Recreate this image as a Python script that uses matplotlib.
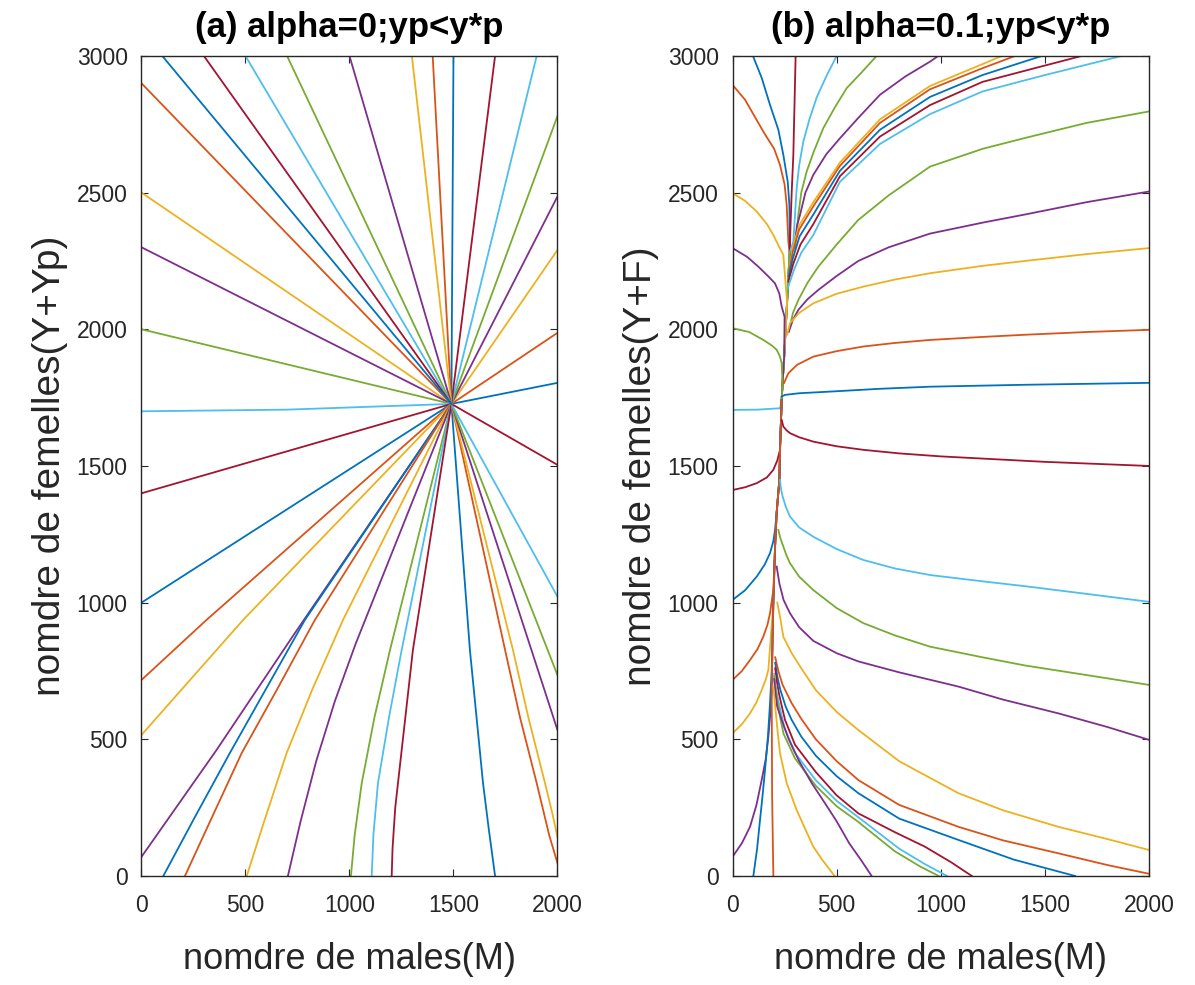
import matplotlib
matplotlib.use("Agg")
import matplotlib.pyplot as plt

plt.rcParams['font.family'] = ['Liberation Sans', 'DejaVu Sans']

# couleurs par défaut de MATLAB
B, O, Y, P, G, C, R = '#0072BD', '#D95319', '#EDB120', '#7E2F8E', '#77AC30', '#4DBEEE', '#A2142F'

# ---- (a) alpha=0 : trajectoires vers le point (1490, 1727) ----
a_x = [
    [0, 1490], [0, 1490], [0, 1490], [0, 1490], [0, 700, 1490], [0, 1490], [0, 1490],
    [0, 313, 1490], [0, 489, 1490], [0, 360, 730, 1490],
    [105, 260, 425, 786, 1490], [209, 330, 482, 650, 834, 1490],
    [506, 590, 698, 820, 969, 1490], [704, 765, 840, 930, 1030, 1490],
    [1007, 1025, 1059, 1120, 1195, 1490], [1107, 1115, 1137, 1190, 1251, 1490],
    [1203, 1207, 1220, 1245, 1305, 1490],
    [1700, 1670, 1642, 1579, 1490], [2000, 1960, 1900, 1820, 1748, 1490],
    [2000, 1975, 1940, 1860, 1786, 1490],
    [2000, 1490], [2000, 1490], [2000, 1490], [2000, 1490], [2000, 1490], [2000, 1490],
    [2000, 1490], [2000, 1490], [2000, 1490],
    [1900, 1490], [1700, 1490], [1500, 1490], [1400, 1490], [1300, 1490], [1000, 1490],
    [700, 1490], [500, 1490], [300, 1490], [100, 1490],
]
a_y = [
    [2900, 1727], [2500, 1727], [2300, 1727], [2000, 1727], [1700, 1706, 1727], [1400, 1727], [1000, 1727],
    [717, 937, 1727], [516, 937, 1727], [70, 460, 880, 1727],
    [0, 220, 450, 937, 1727], [0, 200, 450, 680, 937, 1727],
    [0, 200, 450, 680, 937, 1727], [0, 200, 420, 640, 850, 1727],
    [0, 150, 340, 580, 827, 1727], [0, 150, 340, 580, 827, 1727],
    [0, 100, 250, 420, 827, 1727],
    [0, 170, 340, 827, 1727], [47, 150, 340, 580, 827, 1727],
    [143, 230, 340, 580, 827, 1727],
    [534, 1727], [735, 1727], [1022, 1727], [1504, 1727], [1804, 1727], [1987, 1727],
    [2290, 1727], [2486, 1727], [2780, 1727],
    [3000, 1727], [3000, 1727], [3000, 1727], [3000, 1727], [3000, 1727], [3000, 1727],
    [3000, 1727], [3000, 1727], [3000, 1727], [3000, 1727],
]
a_col = [O, Y, P, G, C, R, B, O, Y, P, B, O, Y, P, G, C, R, B, O, Y,
         P, G, C, R, B, O, Y, P, G, C, R, B, O, Y, P, G, C, R, B]

# ---- (b) alpha=0.1 ----
# ligne "colonne" vers laquelle convergent les trajectoires
spine_u = [188, 196, 204, 212, 225, 228, 236, 240, 248, 262, 274, 284, 292, 303]
spine_v = [680, 1000, 1200, 1330, 1450, 1560, 1740, 1800, 1900, 2100, 2280, 2500, 2638, 3000]

# trajectoires qui rejoignent la colonne puis la suivent jusqu'au noeud (236, 1740)
bj_x = [
    [0, 60, 148, 200, 228, 250, 260, 268],
    [98, 140, 180, 220, 244, 265, 273, 276],
    [303],
    [500, 450, 404, 370, 340, 320, 308, 292],
    [692, 620, 548, 490, 436, 390, 356, 330, 316, 300],
    [0, 60, 116, 165, 196, 225, 244],
    [0, 70, 124, 170, 204, 225, 236, 250],
    [0, 80, 148, 190, 212, 228, 236],
    [0, 120, 228],
    [0, 60, 116, 165, 196, 215, 228],
    [0, 60, 116, 155, 180, 196, 204, 212],
    [0, 45, 84, 120, 148, 168, 180, 196],
    [0, 45, 84, 115, 140, 160, 172],
    [0, 45, 84, 115, 140, 160, 172, 182, 188],
    [100, 118, 132, 145, 156, 170, 180, 188],
    [196, 190, 188],
]
bj_y = [
    [2894, 2840, 2723, 2660, 2601, 2530, 2455, 2321],
    [3000, 2920, 2821, 2730, 2638, 2540, 2455, 2272],
    [3000],
    [3000, 2925, 2848, 2770, 2687, 2600, 2516, 2321],
    [3000, 2940, 2882, 2810, 2736, 2650, 2577, 2500, 2418, 2297],
    [2498, 2470, 2431, 2385, 2345, 2300, 2272],
    [2297, 2265, 2229, 2195, 2168, 2130, 2083, 2046],
    [2004, 1990, 1961, 1940, 1925, 1900, 1876],
    [1705, 1706, 1711],
    [1412, 1422, 1437, 1458, 1486, 1520, 1559],
    [1010, 1045, 1095, 1140, 1181, 1225, 1266, 1328],
    [717, 750, 790, 830, 876, 920, 961, 1046],
    [522, 555, 595, 635, 680, 720, 754],
    [70, 120, 180, 260, 351, 430, 510, 600, 680],
    [0, 100, 205, 300, 388, 510, 632, 750],
    [0, 300, 700],
]
bj_col = [O, B, R, C, G, Y, P, G, C, R, B, O, Y, P, B, O]

# trajectoires qui quittent la colonne vers la droite
bo_x = [
    [300, 310, 324, 350, 388, 450, 516, 600, 708, 830, 948, 988],
    [275, 290, 320, 388, 516, 708, 948, 1200, 1293],
    [273, 290, 320, 388, 516, 708, 948, 1200, 1357],
    [270, 290, 322, 388, 516, 708, 948, 1200, 1485],
    [268, 292, 326, 388, 516, 708, 948, 1200, 1450, 1677],
    [265, 294, 330, 388, 516, 708, 948, 1200, 1500, 1869],
    [276, 290, 316, 360, 412, 500, 604, 750, 948, 1200, 1405, 1700, 2000],
    [270, 290, 316, 360, 412, 500, 604, 750, 948, 1200, 1405, 1700, 2000],
    [262, 276, 320, 388, 500, 628, 780, 948, 1200, 1405, 1700, 2000],
    [247, 268, 310, 388, 500, 628, 780, 948, 1200, 1405, 1700, 2000],
    [236, 252, 320, 468, 700, 948, 1405, 2000],
    [236, 244, 260, 276, 320, 388, 500, 628, 800, 1000, 1250, 1500, 2000],
    [228, 232, 240, 256, 276, 320, 388, 500, 628, 780, 948, 1200, 1405, 1700, 2000],
    [220, 230, 244, 258, 276, 320, 388, 500, 628, 780, 948, 1200, 1405, 1700, 2000],
    [212, 225, 245, 276, 320, 388, 500, 604, 800, 1084, 1300, 1564, 1800, 2000],
    [215, 230, 244, 284, 330, 400, 500, 604, 800, 1084, 1300, 1564, 1800, 2000],
    [205, 220, 240, 284, 330, 400, 500, 604, 800, 1084, 1300, 1564, 1800, 2000],
    [205, 215, 230, 255, 284, 330, 400, 500, 604, 800, 1084, 1350, 1645],
    [205, 213, 225, 240, 252, 300, 400, 500, 604, 780, 924, 1050, 1149],
    [200, 208, 220, 235, 250, 300, 400, 500, 604, 800, 920, 1030],
    [200, 207, 218, 230, 245, 300, 400, 500, 600, 780, 900, 990],
    [200, 206, 214, 236, 270, 320, 380, 444, 500, 560, 620, 668],
    [196, 205, 215, 228, 260, 308, 350, 388, 430, 468, 490],
]
bo_y = [
    [2321, 2380, 2418, 2500, 2565, 2640, 2699, 2770, 2858, 2925, 2979, 3000],
    [2230, 2300, 2380, 2465, 2610, 2768, 2890, 2970, 3000],
    [2215, 2285, 2365, 2450, 2598, 2755, 2878, 2955, 3000],
    [2195, 2260, 2340, 2420, 2580, 2730, 2850, 2930, 3000],
    [2175, 2240, 2310, 2385, 2560, 2705, 2820, 2905, 2955, 3000],
    [2150, 2215, 2280, 2345, 2540, 2678, 2787, 2870, 2930, 3000],
    [2010, 2060, 2107, 2170, 2229, 2310, 2400, 2490, 2595, 2660, 2700, 2755, 2797],
    [1990, 2035, 2071, 2110, 2144, 2195, 2250, 2300, 2350, 2390, 2420, 2465, 2504],
    [1980, 2022, 2060, 2095, 2130, 2156, 2182, 2205, 2232, 2250, 2275, 2297],
    [1803, 1839, 1870, 1900, 1920, 1937, 1950, 1961, 1972, 1980, 1990, 1998],
    [1754, 1760, 1766, 1772, 1782, 1790, 1797, 1804],
    [1668, 1644, 1630, 1620, 1605, 1589, 1572, 1559, 1546, 1535, 1525, 1515, 1500],
    [1449, 1420, 1390, 1350, 1315, 1275, 1241, 1196, 1156, 1125, 1101, 1078, 1060, 1032, 1003],
    [1266, 1235, 1205, 1175, 1144, 1095, 1046, 980, 925, 880, 839, 800, 770, 735, 699],
    [1132, 1070, 1010, 961, 910, 860, 815, 785, 745, 693, 645, 595, 545, 498],
    [1000, 940, 875, 815, 760, 680, 600, 534, 420, 303, 240, 180, 135, 95],
    [800, 750, 700, 632, 575, 500, 420, 351, 260, 180, 130, 83, 40, 8],
    [780, 730, 680, 620, 571, 510, 440, 365, 303, 210, 132, 60, 0],
    [760, 710, 660, 610, 571, 480, 380, 295, 229, 160, 107, 50, 0],
    [740, 690, 640, 590, 540, 450, 350, 275, 215, 100, 45, 0],
    [730, 680, 630, 575, 520, 430, 330, 255, 200, 90, 35, 0],
    [720, 670, 620, 571, 500, 420, 340, 266, 200, 120, 55, 0],
    [693, 620, 540, 449, 340, 241, 170, 107, 60, 22, 0],
]
bo_col = [P, Y, O, B, R, C, G, P, Y, O, B, R, C, G, P, Y, O, B, R, C, G, P, Y]

xticks = [0, 500, 1000, 1500, 2000]
yticks = [0, 500, 1000, 1500, 2000, 2500, 3000]


def along_spine(x, y):
    # prolonge la trajectoire le long de la colonne jusqu'au noeud
    v0 = y[-1]
    v_node = 1740
    pts = [(u, v) for u, v in zip(spine_u, spine_v) if min(v0, v_node) < v < max(v0, v_node)]
    pts.sort(key=lambda p: p[1], reverse=v0 > v_node)
    pts.append((236, v_node))
    return x + [p[0] for p in pts], y + [p[1] for p in pts]


def style_axes(ax, title, ylabel):
    ax.set_xlim(0, 2000)
    ax.set_ylim(0, 3000)
    ax.set_xticks(xticks)
    ax.set_yticks(yticks)
    ax.tick_params(direction='in', top=True, right=True, length=5, width=0.8,
                   labelsize=16.5, colors='#262626')
    ax.tick_params(axis='x', pad=13)
    ax.tick_params(axis='y', pad=10)
    for s in ax.spines.values():
        s.set_color('#262626')
        s.set_linewidth(1.0)
    ax.set_title(title, fontsize=25, fontweight='bold', pad=14)
    ax.set_xlabel('nomdre de males(M)', fontsize=26, color='#262626', labelpad=18)
    ax.set_ylabel(ylabel, fontsize=28, color='#262626', labelpad=6)


fig = plt.figure(figsize=(11.95, 9.85), dpi=100)
ax1 = fig.add_axes([0.1184, 0.1107, 0.3481, 0.8325])
ax2 = fig.add_axes([0.613, 0.1107, 0.3485, 0.8325])

for x, y, c in zip(a_x, a_y, a_col):
    ax1.plot(x, y, color=c, lw=1.3)

for x, y, c in zip(bj_x, bj_y, bj_col):
    xx, yy = along_spine(x, y)
    ax2.plot(xx, yy, color=c, lw=1.3)
for x, y, c in zip(bo_x, bo_y, bo_col):
    ax2.plot(x, y, color=c, lw=1.3)

style_axes(ax1, '(a) alpha=0;yp<y*p', 'nomdre de femelles(Y+Yp)')
style_axes(ax2, '(b) alpha=0.1;yp<y*p', 'nomdre de femelles(Y+F)')

fig.savefig('out.png', dpi=100)
